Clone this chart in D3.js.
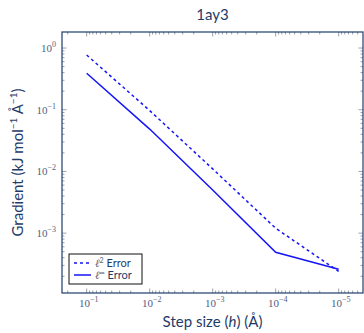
<!DOCTYPE html>
<html>
<head>
<meta charset="utf-8">
<script src="https://cdn.jsdelivr.net/npm/d3@7"></script>
<style>
  body { margin: 0; background: #fff; }
  svg { display: block; }
</style>
</head>
<body>
<svg class="chart"></svg>
<script>
// step sizes h (Angstrom)
var steps = [1e-1, 1e-2, 1e-3, 1e-4, 1e-5];
// gradient errors
var l2Error = [0.77, 0.097, 0.011, 0.0012, 0.00024];
var linfError = [0.39, 0.0486, 0.0050, 0.00049, 0.00026];
var xTickExp = [-1, -2, -3, -4, -5];
var yTickExp = [0, -1, -2, -3];

var W = 364, H = 333;
var margin = { top: 32, left: 62, right: 1, bottom: 40 };
var navy = "#1f3c68", tickCol = "#7f8a99", labCol = "#4f6180", lineCol = "#1515f5";

var svg = d3.select(".chart").attr("width", W).attr("height", H);

var x = d3.scaleLog().domain([Math.pow(10, -0.608), Math.pow(10, -5.386)])
    .range([margin.left, W - margin.right]);
var y = d3.scaleLog().domain([Math.pow(10, -3.97), Math.pow(10, 0.26)])
    .range([H - margin.bottom, margin.top]);

var x0 = margin.left, x1 = W - margin.right, y0 = H - margin.bottom, y1 = margin.top;

// minor tick values
function minors(lo, hi) {
    var out = [];
    for (var k = -7; k <= 1; k++) {
        for (var m = 2; m <= 9; m++) {
            var v = m * Math.pow(10, k);
            if (v > lo && v < hi) out.push(v);
        }
    }
    return out;
}
var xd = x.domain(), yd = y.domain();
var xMinor = minors(xd[1], xd[0]), yMinor = minors(yd[0], yd[1]);
var xMajor = xTickExp.map(function(e) { return Math.pow(10, e); });
var yMajor = yTickExp.map(function(e) { return Math.pow(10, e); });

var ticks = svg.append("g").attr("stroke", tickCol).attr("stroke-width", 0.8);
function vt(v, len) {
    ticks.append("line").attr("x1", x(v)).attr("x2", x(v)).attr("y1", y0).attr("y2", y0 - len);
    ticks.append("line").attr("x1", x(v)).attr("x2", x(v)).attr("y1", y1).attr("y2", y1 + len);
}
function ht(v, len) {
    ticks.append("line").attr("y1", y(v)).attr("y2", y(v)).attr("x1", x0).attr("x2", x0 + len);
    ticks.append("line").attr("y1", y(v)).attr("y2", y(v)).attr("x1", x1).attr("x2", x1 - len);
}
xMinor.forEach(function(v) { vt(v, 2.5); });
xMajor.forEach(function(v) { vt(v, 4.5); });
yMinor.forEach(function(v) { ht(v, 2.5); });
yMajor.forEach(function(v) { ht(v, 4.5); });

// lines
var line = d3.line().x(function(d) { return x(d[0]); }).y(function(d) { return y(d[1]); });
svg.append("path").datum(d3.zip(steps, l2Error)).attr("d", line)
    .attr("fill", "none").attr("stroke", lineCol).attr("stroke-width", 1.5)
    .attr("stroke-dasharray", "3,3");
svg.append("path").datum(d3.zip(steps, linfError)).attr("d", line)
    .attr("fill", "none").attr("stroke", lineCol).attr("stroke-width", 1.5);

// spines
svg.append("rect").attr("x", x0).attr("y", y1).attr("width", x1 - x0).attr("height", y0 - y1)
    .attr("fill", "none").attr("stroke", navy).attr("stroke-width", 1.2);

// tick labels
function powLabel(g, e) {
    g.append("tspan").text("10");
    g.append("tspan").attr("dy", -5).attr("font-size", 8).text(e === 0 ? "0" : "\u2212" + (-e));
}
xTickExp.forEach(function(e) {
    var t = svg.append("text").attr("x", x(Math.pow(10, e)) + 2).attr("y", y0 + 14)
        .attr("text-anchor", "middle").attr("fill", labCol)
        .attr("font-family", "Liberation Serif, serif").attr("font-size", 11);
    powLabel(t, e);
});
yTickExp.forEach(function(e) {
    var t = svg.append("text").attr("x", x0 - 6).attr("y", y(Math.pow(10, e)) + 4)
        .attr("text-anchor", "end").attr("fill", labCol)
        .attr("font-family", "Liberation Serif, serif").attr("font-size", 11);
    powLabel(t, e);
});

// title and axis labels
svg.append("text").attr("x", (x0 + x1) / 2).attr("y", 20).attr("text-anchor", "middle")
    .attr("fill", navy).attr("font-family", "Lato, sans-serif").attr("font-size", 15).text("1ay3");

var xl = svg.append("text").attr("x", (x0 + x1) / 2).attr("y", 327).attr("text-anchor", "middle")
    .attr("fill", navy).attr("font-family", "Lato, sans-serif").attr("font-size", 15);
xl.append("tspan").text("Step size (");
xl.append("tspan").attr("font-style", "italic").text("h");
xl.append("tspan").text(") (\u00c5)");

var yl = svg.append("text").attr("transform", "translate(23," + ((y0 + y1) / 2) + ") rotate(-90)")
    .attr("text-anchor", "middle").attr("fill", navy)
    .attr("font-family", "Lato, sans-serif").attr("font-size", 15);
yl.append("tspan").text("Gradient (kJ mol");
yl.append("tspan").attr("dy", -6).attr("font-size", 10).text("\u22121");
yl.append("tspan").attr("dy", 6).text(" \u00c5");
yl.append("tspan").attr("dy", -6).attr("font-size", 10).text("\u22121");
yl.append("tspan").attr("dy", 6).text(")");

// legend
var lg = svg.append("g").attr("transform", "translate(69,254)");
lg.append("rect").attr("width", 73).attr("height", 30).attr("fill", "#fff")
    .attr("stroke", "#111").attr("stroke-width", 1);
var entries = [{ sup: "2", dash: "3,3" }, { sup: "\u221e", dash: null }];
entries.forEach(function(d, i) {
    var yy = 9 + i * 12;
    lg.append("line").attr("x1", 5).attr("x2", 22).attr("y1", yy).attr("y2", yy)
        .attr("stroke", lineCol).attr("stroke-width", 1.5).attr("stroke-dasharray", d.dash);
    var t = lg.append("text").attr("x", 26).attr("y", yy + 4).attr("fill", navy)
        .attr("font-family", "Lato, sans-serif").attr("font-size", 11);
    t.append("tspan").attr("font-family", "Liberation Serif, serif").attr("font-style", "italic")
        .attr("fill", labCol).text("\u2113");
    t.append("tspan").attr("dy", -4).attr("font-size", 7).attr("fill", labCol).text(d.sup);
    t.append("tspan").attr("dy", 4).text(" Error");
});
</script>
</body>
</html>
